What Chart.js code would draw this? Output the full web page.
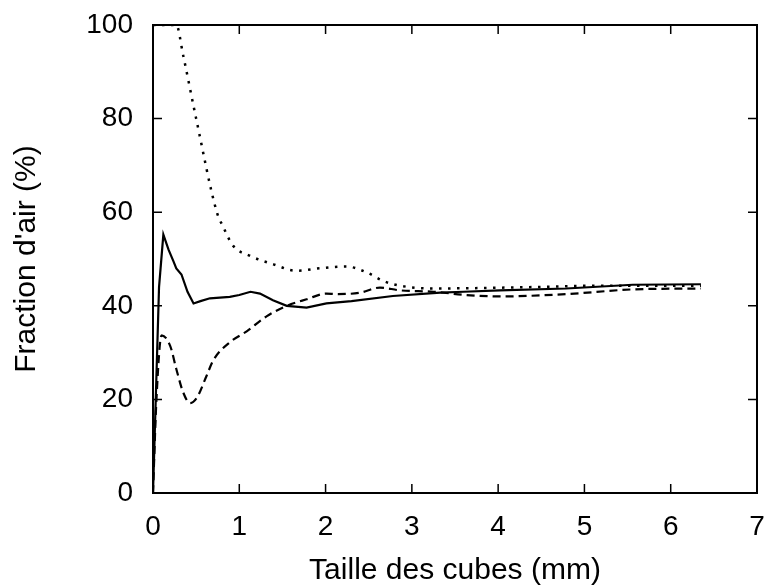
<!DOCTYPE html>
<html>
<head>
<meta charset="utf-8">
<script src="https://cdn.jsdelivr.net/npm/chart.js@4/dist/chart.umd.min.js"></script>
<style>
  html, body { margin: 0; padding: 0; background: #fff; }
</style>
</head>
<body>
<canvas id="graphe" width="768" height="587"></canvas>
<script>
// données
const xTicks = [0, 1, 2, 3, 4, 5, 6, 7];
const yTicks = [0, 20, 40, 60, 80, 100];

const pleineX = [0, 0.07, 0.12, 0.18, 0.235, 0.27, 0.33, 0.40, 0.47, 0.55, 0.66, 0.89, 1.0, 1.13, 1.24, 1.39, 1.55, 1.78, 2.01, 2.3, 2.78, 3.33, 3.6, 4.02, 4.79, 5.56, 6.35];
const pleineY = [0, 44, 55.2, 52, 49.6, 48, 46.7, 43, 40.5, 41, 41.6, 41.9, 42.3, 43.0, 42.6, 41.2, 40.0, 39.6, 40.5, 41.0, 42.1, 42.8, 43.0, 43.3, 43.7, 44.5, 44.6];

const tiretX = [0, 0.04, 0.1, 0.2, 0.27, 0.35, 0.43, 0.51, 0.62, 0.70, 0.89, 1.09, 1.32, 1.55, 1.78, 2.01, 2.13, 2.40, 2.63, 2.86, 3.25, 3.63, 4.02, 4.79, 5.56, 6.35];
const tiretY = [0, 20, 33.7, 31.4, 26.5, 21.5, 19.2, 20.4, 25.0, 28.4, 32.2, 34.6, 37.8, 40.0, 41.4, 42.6, 42.5, 42.8, 43.9, 43.3, 43.0, 42.3, 42.0, 42.5, 43.5, 43.7];

const pointX = [0, 0.27, 0.35, 0.5, 0.74, 0.81, 0.93, 1.12, 1.39, 1.66, 1.93, 2.24, 2.48, 2.67, 2.86, 3.25, 4.41, 5.18, 6.35];
const pointY = [100, 100, 93.5, 80, 60, 57, 52.8, 50.7, 48.9, 47.5, 48.0, 48.4, 47.1, 45.3, 44.3, 43.7, 44.0, 44.3, 44.3];

function paires(xs, ys) {
    return xs.map((x, i) => ({ x: x, y: ys[i] }));
}

// cadre + graduations vers l'intérieur
const cadre = {
    id: 'cadre',
    afterDraw(chart) {
        const c = chart.ctx;
        const a = chart.chartArea;
        const sx = chart.scales.x, sy = chart.scales.y;
        c.save();
        c.strokeStyle = '#000';
        c.lineWidth = 2;
        c.strokeRect(a.left, a.top, a.right - a.left, a.bottom - a.top);
        c.lineWidth = 1.5;
        c.beginPath();
        xTicks.forEach(v => {
            const p = sx.getPixelForValue(v);
            c.moveTo(p, a.bottom); c.lineTo(p, a.bottom - 9);
            c.moveTo(p, a.top); c.lineTo(p, a.top + 9);
        });
        yTicks.forEach(v => {
            const p = sy.getPixelForValue(v);
            c.moveTo(a.left, p); c.lineTo(a.left + 9, p);
            c.moveTo(a.right, p); c.lineTo(a.right - 9, p);
        });
        c.stroke();
        c.restore();
    }
};

const famille = '"Liberation Sans", Arial, sans-serif';
const police = { family: famille, size: 28 };
const policeTitre = { family: famille, size: 30 };

new Chart(document.getElementById('graphe').getContext('2d'), {
    type: 'line',
    data: {
        datasets: [
            {
                data: paires(pleineX, pleineY),
                borderColor: '#000',
                borderWidth: 2.2,
                pointRadius: 0,
                tension: 0
            },
            {
                data: paires(tiretX, tiretY),
                borderColor: '#000',
                borderWidth: 2.2,
                borderDash: [8, 5],
                pointRadius: 0,
                cubicInterpolationMode: 'monotone'
            },
            {
                data: paires(pointX, pointY),
                borderColor: '#000',
                borderWidth: 2.5,
                borderDash: [2.5, 6.5],
                pointRadius: 0,
                cubicInterpolationMode: 'monotone'
            }
        ]
    },
    options: {
        responsive: false,
        animation: false,
        layout: { padding: { top: 25, right: 11, left: 0, bottom: 0 } },
        plugins: { legend: { display: false }, tooltip: { enabled: false } },
        scales: {
            x: {
                type: 'linear',
                min: 0,
                max: 7,
                afterFit: s => { s.height = 94; s.paddingLeft = 0; s.paddingRight = 0; },
                afterBuildTicks: s => { s.ticks = xTicks.map(v => ({ value: v })); },
                grid: { display: false },
                border: { display: false },
                ticks: { color: '#000', font: police, padding: 9, maxRotation: 0 },
                title: { display: true, text: 'Taille des cubes (mm)', color: '#000', font: policeTitre, padding: { top: 0, bottom: -2 } }
            },
            y: {
                min: 0,
                max: 100,
                afterFit: s => { s.width = 153; s.paddingTop = 0; s.paddingBottom = 0; },
                afterBuildTicks: s => { s.ticks = yTicks.map(v => ({ value: v })); },
                grid: { display: false },
                border: { display: false },
                ticks: { color: '#000', font: police, padding: 12 },
                title: { display: true, text: "Fraction d'air (%)", color: '#000', font: policeTitre, padding: { top: 9, bottom: 0 } }
            }
        }
    },
    plugins: [cadre]
});
</script>
</body>
</html>
